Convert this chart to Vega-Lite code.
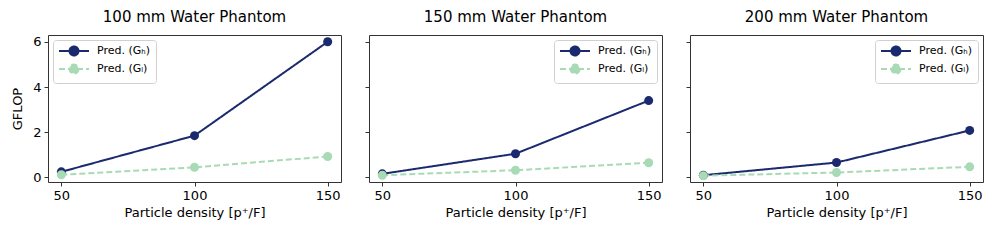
{
  "$schema": "https://vega.github.io/schema/vega-lite/v6.json",
  "background": "white",
  "padding": {"left": 11, "top": 9, "right": 5, "bottom": 5},
  "config": {
    "font": "DejaVu Sans",
    "view": {"stroke": "#333", "strokeWidth": 1},
    "axis": {"grid": false, "domain": false, "tickColor": "#333", "tickSize": 4, "labelFontSize": 13, "titleFontSize": 13, "titleFontWeight": "normal", "labelColor": "#000", "titleColor": "#000", "labelPadding": 3},
    "title": {"fontSize": 15, "fontWeight": "normal", "offset": 10},
    "legend": {"fillColor": "white", "strokeColor": "#d0d0d0", "cornerRadius": 3, "padding": 5, "offset": 5, "labelFontSize": 11, "rowPadding": 0, "title": null, "symbolOffset": 10, "labelOffset": 17}
  },
  "spacing": 22,
  "resolve": {"legend": {"color": "independent", "strokeDash": "independent"}},
  "datasets": {
    "d": [
      {"panel": "100", "series": "H", "density": 50, "gflop": 0.25},
      {"panel": "100", "series": "H", "density": 100, "gflop": 1.85},
      {"panel": "100", "series": "H", "density": 150, "gflop": 6.0},
      {"panel": "100", "series": "L", "density": 50, "gflop": 0.12},
      {"panel": "100", "series": "L", "density": 100, "gflop": 0.45},
      {"panel": "100", "series": "L", "density": 150, "gflop": 0.93},
      {"panel": "150", "series": "H", "density": 50, "gflop": 0.16},
      {"panel": "150", "series": "H", "density": 100, "gflop": 1.05},
      {"panel": "150", "series": "H", "density": 150, "gflop": 3.4},
      {"panel": "150", "series": "L", "density": 50, "gflop": 0.1},
      {"panel": "150", "series": "L", "density": 100, "gflop": 0.32},
      {"panel": "150", "series": "L", "density": 150, "gflop": 0.65},
      {"panel": "200", "series": "H", "density": 50, "gflop": 0.1},
      {"panel": "200", "series": "H", "density": 100, "gflop": 0.66},
      {"panel": "200", "series": "H", "density": 150, "gflop": 2.08},
      {"panel": "200", "series": "L", "density": 50, "gflop": 0.08},
      {"panel": "200", "series": "L", "density": 100, "gflop": 0.22},
      {"panel": "200", "series": "L", "density": 150, "gflop": 0.47}
    ]
  },
  "hconcat": [
    {
      "title": "100 mm Water Phantom",
      "width": 293, "height": 147,
      "data": {"name": "d"},
      "transform": [{"filter": "datum.panel === '100'"}],
      "encoding": {
        "x": {"field": "density", "type": "quantitative", "title": "Particle density [p⁺/F]", "scale": {"domain": [45, 155], "nice": false, "zero": false}, "axis": {"values": [50, 100, 150]}},
        "y": {"field": "gflop", "type": "quantitative", "title": "GFLOP", "scale": {"domain": [-0.2, 6.3], "nice": false, "zero": false}, "axis": {"values": [0, 2, 4, 6], "titlePadding": 8}},
        "color": {"field": "series", "type": "nominal", "scale": {"domain": ["H", "L"], "range": ["#1b2a6e", "#a8dbb5"]},
          "legend": {"orient": "top-left", "labelExpr": "datum.value === 'H' ? 'Pred. (Gₕ)' : 'Pred. (Gₗ)'", "symbolType": "M-3,0L3,0M0.9,0A0.9,0.9 0 1,1 -0.9,0A0.9,0.9 0 1,1 0.9,0Z", "symbolSize": 100, "symbolStrokeWidth": 2,
            "encode": {"symbols": {"update": {"fill": {"signal": "datum.value === 'H' ? '#1b2a6e' : '#a8dbb5'"}}}}}},
        "strokeDash": {"field": "series", "type": "nominal", "scale": {"domain": ["H", "L"], "range": [[1, 0], [6, 3]]},
          "legend": {"orient": "top-left", "labelExpr": "datum.value === 'H' ? 'Pred. (Gₕ)' : 'Pred. (Gₗ)'", "symbolType": "M-3,0L3,0M0.9,0A0.9,0.9 0 1,1 -0.9,0A0.9,0.9 0 1,1 0.9,0Z", "symbolSize": 100, "symbolStrokeWidth": 2,
            "encode": {"symbols": {"update": {"fill": {"signal": "datum.value === 'H' ? '#1b2a6e' : '#a8dbb5'"}}}}}}
      },
      "mark": {"type": "line", "strokeWidth": 2, "point": {"filled": true, "size": 81, "opacity": 1}}
    },
    {
      "title": "150 mm Water Phantom",
      "width": 293, "height": 147,
      "data": {"name": "d"},
      "transform": [{"filter": "datum.panel === '150'"}],
      "encoding": {
        "x": {"field": "density", "type": "quantitative", "title": "Particle density [p⁺/F]", "scale": {"domain": [45, 155], "nice": false, "zero": false}, "axis": {"values": [50, 100, 150]}},
        "y": {"field": "gflop", "type": "quantitative", "title": null, "scale": {"domain": [-0.2, 6.3], "nice": false, "zero": false}, "axis": {"values": [0, 2, 4, 6], "labels": false}},
        "color": {"field": "series", "type": "nominal", "scale": {"domain": ["H", "L"], "range": ["#1b2a6e", "#a8dbb5"]},
          "legend": {"orient": "top-right", "labelExpr": "datum.value === 'H' ? 'Pred. (Gₕ)' : 'Pred. (Gₗ)'", "symbolType": "M-3,0L3,0M0.9,0A0.9,0.9 0 1,1 -0.9,0A0.9,0.9 0 1,1 0.9,0Z", "symbolSize": 100, "symbolStrokeWidth": 2,
            "encode": {"symbols": {"update": {"fill": {"signal": "datum.value === 'H' ? '#1b2a6e' : '#a8dbb5'"}}}}}},
        "strokeDash": {"field": "series", "type": "nominal", "scale": {"domain": ["H", "L"], "range": [[1, 0], [6, 3]]},
          "legend": {"orient": "top-right", "labelExpr": "datum.value === 'H' ? 'Pred. (Gₕ)' : 'Pred. (Gₗ)'", "symbolType": "M-3,0L3,0M0.9,0A0.9,0.9 0 1,1 -0.9,0A0.9,0.9 0 1,1 0.9,0Z", "symbolSize": 100, "symbolStrokeWidth": 2,
            "encode": {"symbols": {"update": {"fill": {"signal": "datum.value === 'H' ? '#1b2a6e' : '#a8dbb5'"}}}}}}
      },
      "mark": {"type": "line", "strokeWidth": 2, "point": {"filled": true, "size": 81, "opacity": 1}}
    },
    {
      "title": "200 mm Water Phantom",
      "width": 293, "height": 147,
      "data": {"name": "d"},
      "transform": [{"filter": "datum.panel === '200'"}],
      "encoding": {
        "x": {"field": "density", "type": "quantitative", "title": "Particle density [p⁺/F]", "scale": {"domain": [45, 155], "nice": false, "zero": false}, "axis": {"values": [50, 100, 150]}},
        "y": {"field": "gflop", "type": "quantitative", "title": null, "scale": {"domain": [-0.2, 6.3], "nice": false, "zero": false}, "axis": {"values": [0, 2, 4, 6], "labels": false}},
        "color": {"field": "series", "type": "nominal", "scale": {"domain": ["H", "L"], "range": ["#1b2a6e", "#a8dbb5"]},
          "legend": {"orient": "top-right", "labelExpr": "datum.value === 'H' ? 'Pred. (Gₕ)' : 'Pred. (Gₗ)'", "symbolType": "M-3,0L3,0M0.9,0A0.9,0.9 0 1,1 -0.9,0A0.9,0.9 0 1,1 0.9,0Z", "symbolSize": 100, "symbolStrokeWidth": 2,
            "encode": {"symbols": {"update": {"fill": {"signal": "datum.value === 'H' ? '#1b2a6e' : '#a8dbb5'"}}}}}},
        "strokeDash": {"field": "series", "type": "nominal", "scale": {"domain": ["H", "L"], "range": [[1, 0], [6, 3]]},
          "legend": {"orient": "top-right", "labelExpr": "datum.value === 'H' ? 'Pred. (Gₕ)' : 'Pred. (Gₗ)'", "symbolType": "M-3,0L3,0M0.9,0A0.9,0.9 0 1,1 -0.9,0A0.9,0.9 0 1,1 0.9,0Z", "symbolSize": 100, "symbolStrokeWidth": 2,
            "encode": {"symbols": {"update": {"fill": {"signal": "datum.value === 'H' ? '#1b2a6e' : '#a8dbb5'"}}}}}}
      },
      "mark": {"type": "line", "strokeWidth": 2, "point": {"filled": true, "size": 81, "opacity": 1}}
    }
  ]
}
